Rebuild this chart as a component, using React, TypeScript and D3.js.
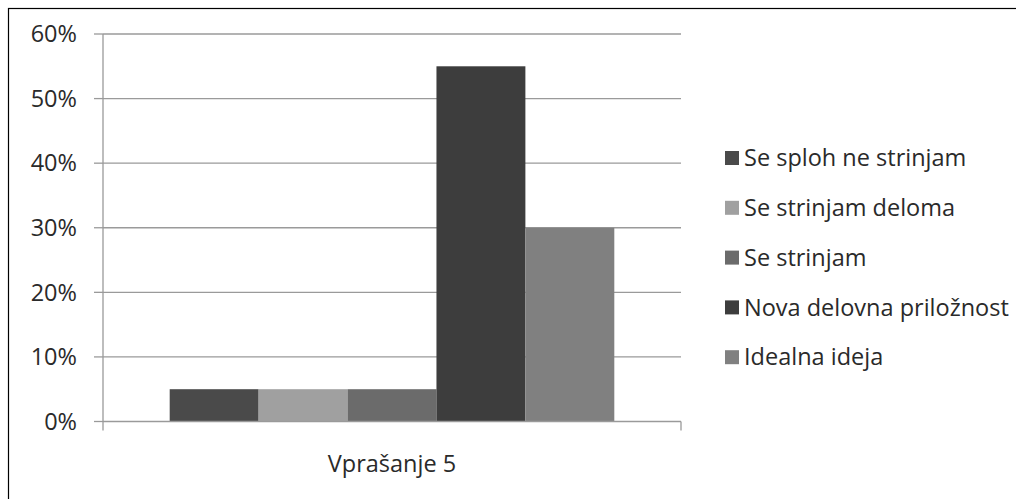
import React from "react";
import * as d3 from "d3";

const categories = ["Vprašanje 5"];
const seriesNames = [
  "Se sploh ne strinjam",
  "Se strinjam deloma",
  "Se strinjam",
  "Nova delovna priložnost",
  "Idealna ideja",
];
const seriesValues = [5, 5, 5, 55, 30];
const seriesColors = ["#4a4a4a", "#a0a0a0", "#6b6b6b", "#3d3d3d", "#808080"];
const yTicks = [0, 10, 20, 30, 40, 50, 60];

const W = 1016;
const H = 499;
const FONT = "'Open Sans', 'Noto Sans', sans-serif";
const FS = 23.5;

export default function App() {
  const left = 103;
  const right = 681;
  const top = 34;
  const bottom = 421.5;

  const x0 = d3.scaleBand().domain(categories).range([left, right]).paddingInner(0).paddingOuter(0);
  const y = d3.scaleLinear().domain([0, 60]).range([bottom, top]);
  // Excel gap width 150% -> bar group occupies 5/(5+1.5) of band
  const groupFrac = 5 / 6.5;
  const bw = x0.bandwidth();
  const x1 = d3
    .scaleBand()
    .domain(seriesNames)
    .range([(bw * (1 - groupFrac)) / 2, bw - (bw * (1 - groupFrac)) / 2]);

  const legendX = 725;
  const legendY0 = 158;
  const legendStep = 49.8;

  return (
    <svg
      width={W}
      height={H}
      style={{ position: "absolute", left: 0, top: 0, background: "#fff" }}
      fontFamily={FONT}
    >
      <rect x={0} y={0} width={W} height={H} fill="#fff" />
      <rect x={8.5} y={8.5} width={W + 20} height={H + 20} fill="none" stroke="#000" strokeWidth={1.2} />
      {/* gridlines */}
      {yTicks.map((t) => (
        <g key={t}>
          {t > 0 && (
            <line x1={left} x2={right} y1={y(t)} y2={y(t)} stroke="#9a9a9a" strokeWidth={1.3} />
          )}
          <line x1={left - 9} x2={left} y1={y(t)} y2={y(t)} stroke="#9a9a9a" strokeWidth={1.3} />
          <text
            x={77}
            y={y(t)}
            dy="0.35em"
            textAnchor="end"
            fontSize={FS}
            fill="#2a2a2a"
          >
            {t + "%"}
          </text>
        </g>
      ))}
      {/* bars */}
      {categories.map((c) => (
        <g key={c} transform={`translate(${x0(c)},0)`}>
          {seriesNames.map((s, i) => (
            <rect
              key={s}
              x={x1(s)!}
              y={y(seriesValues[i])}
              width={x1.bandwidth()}
              height={bottom - y(seriesValues[i])}
              fill={seriesColors[i]}
            />
          ))}
          <text
            x={bw / 2}
            y={464}
            dy="0.35em"
            textAnchor="middle"
            fontSize={FS}
            fill="#2a2a2a"
          >
            {c}
          </text>
        </g>
      ))}
      {/* axes */}
      <line x1={left} x2={left} y1={top} y2={bottom} stroke="#9a9a9a" strokeWidth={1.3} />
      <line x1={left} x2={right} y1={bottom} y2={bottom} stroke="#9a9a9a" strokeWidth={1.3} />
      <line x1={left} x2={left} y1={bottom} y2={bottom + 9} stroke="#9a9a9a" strokeWidth={1.3} />
      <line x1={right} x2={right} y1={bottom} y2={bottom + 9} stroke="#9a9a9a" strokeWidth={1.3} />
      {/* legend */}
      {seriesNames.map((s, i) => (
        <g key={s} transform={`translate(${legendX},${legendY0 + i * legendStep})`}>
          <rect x={0} y={-7} width={14} height={14} fill={seriesColors[i]} />
          <text x={19} y={0} dy="0.35em" fontSize={FS} fill="#2a2a2a">
            {s}
          </text>
        </g>
      ))}
    </svg>
  );
}
